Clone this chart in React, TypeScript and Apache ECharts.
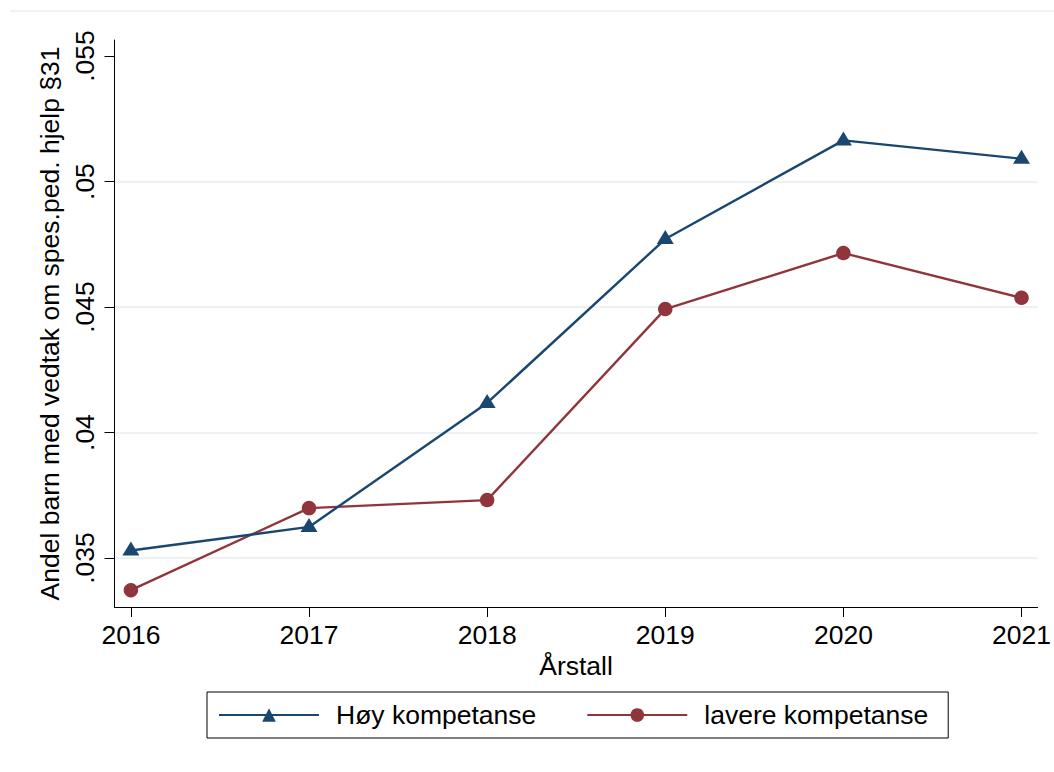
import React, { useEffect, useRef } from "react";
import * as echarts from "echarts";

const years = [2016, 2017, 2018, 2019, 2020, 2021];
const hoyKompetanse = [0.0353, 0.03624, 0.04118, 0.04771, 0.05164, 0.05091];
const lavereKompetanse = [0.03372, 0.03699, 0.03731, 0.04492, 0.04715, 0.04537];
const yTicks = [0.035, 0.04, 0.045, 0.05, 0.055];

const FONT = "'Liberation Sans', Arial, Helvetica, sans-serif";
const BLUE = "#1a476f";
const RED = "#90353b";
const GRID = "#e6eef0";

export default function App() {
  const ref = useRef<HTMLDivElement>(null);
  useEffect(() => {
    if (!ref.current) return;
    const chart = echarts.init(ref.current, undefined, { renderer: "svg" });
    const fmtY = (v: number) => parseFloat(v.toFixed(3)).toString().replace(/^0/, "");
    chart.setOption({
      animation: false,
      backgroundColor: "#ffffff",
      textStyle: { fontFamily: FONT, color: "#000" },
      grid: { left: 114.5, right: 16.3, top: 40, bottom: 165 },
      graphic: [
        {
          type: "line",
          shape: { x1: 10, y1: 11, x2: 1054, y2: 11 },
          style: { stroke: "#e8eef0", lineWidth: 1.5 },
        },
      ],
      xAxis: {
        type: "value",
        min: 2015.908,
        max: 2021.09,
        name: "Årstall",
        nameLocation: "middle",
        nameGap: 42,
        nameTextStyle: { fontSize: 26.5, color: "#000", fontFamily: FONT },
        axisLine: { show: true, lineStyle: { color: "#000", width: 1 } },
        axisTick: { show: true, length: 10, customValues: years, lineStyle: { color: "#000" } },
        axisLabel: {
          customValues: years,
          fontSize: 26.5,
          color: "#000",
          margin: 14,
          fontFamily: FONT,
          formatter: (v: number) => String(Math.round(v)),
        },
        splitLine: { show: false },
      },
      yAxis: {
        type: "value",
        min: 0.03305,
        max: 0.05564,
        name: "Andel barn med vedtak om spes.ped. hjelp §31",
        nameLocation: "middle",
        nameRotate: 90,
        nameGap: 44,
        nameTextStyle: { fontSize: 26.5, color: "#000", fontFamily: FONT },
        axisLine: { show: true, lineStyle: { color: "#000", width: 1 } },
        axisTick: { show: true, length: 10, customValues: yTicks, lineStyle: { color: "#000" } },
        axisLabel: {
          customValues: yTicks,
          rotate: 90,
          fontSize: 26.5,
          color: "#000",
          margin: 16,
          fontFamily: FONT,
          formatter: fmtY,
        },
        splitLine: {
          show: true,
          lineStyle: { color: [GRID, GRID, GRID, GRID, "rgba(0,0,0,0)"], width: 1.5 },
        },
      },
      legend: {
        left: 207,
        top: 692,
        orient: "horizontal",
        padding: [9.5, 20, 9.5, 11],
        itemWidth: 100,
        itemHeight: 17,
        itemGap: 50,
        borderColor: "#000",
        borderWidth: 1,
        textStyle: { fontSize: 26.5, color: "#000", fontFamily: FONT, padding: [0, 0, 0, 12] },
        data: ["Høy kompetanse", "lavere kompetanse"],
      },
      series: [
        {
          name: "Høy kompetanse",
          type: "line",
          data: years.map((y, i) => [y, hoyKompetanse[i]]),
          symbol: "triangle",
          symbolSize: [17, 14],
          symbolOffset: [0, -2],
          color: BLUE,
          lineStyle: { color: BLUE, width: 2.4 },
          itemStyle: { color: BLUE },
          z: 3,
        },
        {
          name: "lavere kompetanse",
          type: "line",
          data: years.map((y, i) => [y, lavereKompetanse[i]]),
          symbol: "circle",
          symbolSize: 14.5,
          color: RED,
          lineStyle: { color: RED, width: 2.4 },
          itemStyle: { color: RED },
          z: 2,
        },
      ],
    });
    return () => chart.dispose();
  }, []);
  return (
    <div
      ref={ref}
      style={{ position: "fixed", left: 0, top: 0, width: 1054, height: 772, background: "#fff" }}
    />
  );
}
